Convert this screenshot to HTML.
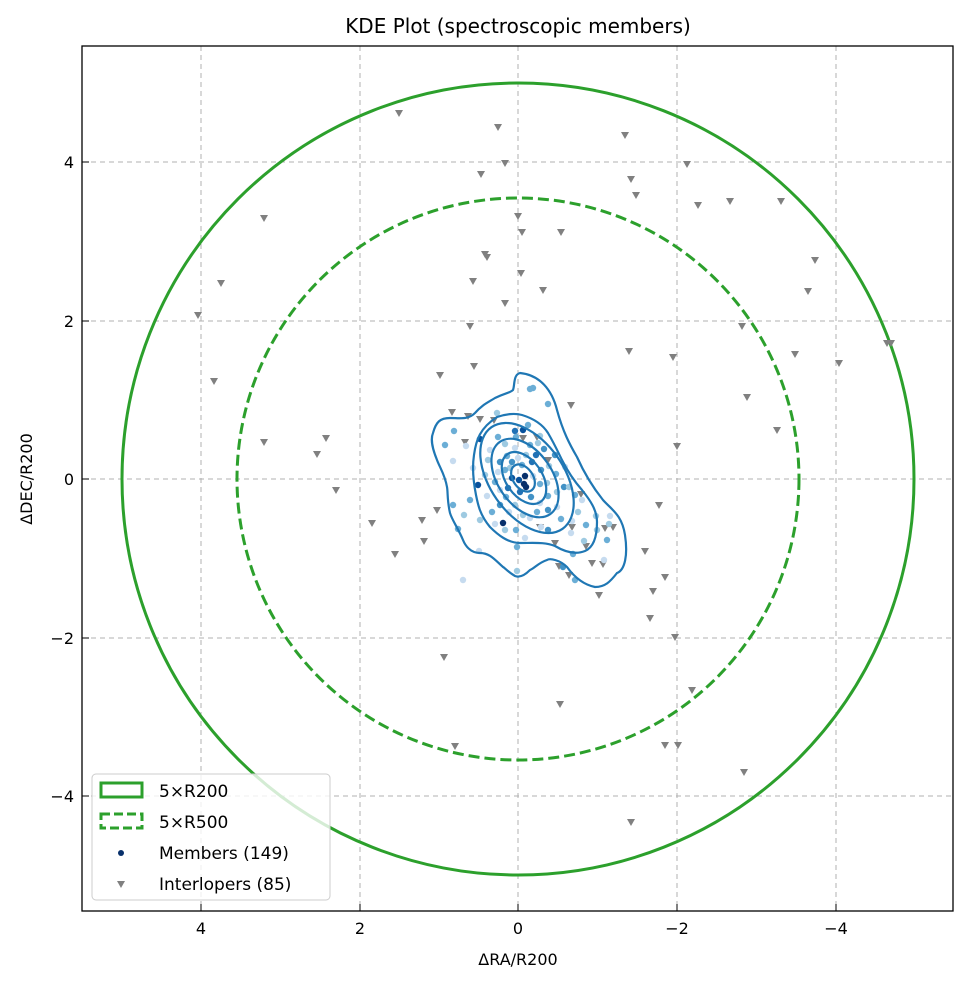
<!DOCTYPE html>
<html><head><meta charset="utf-8"><style>
body{margin:0;background:#fff}
text{font-family:"DejaVu Sans","Liberation Sans",sans-serif;fill:#000}
</style></head><body>
<svg width="969" height="984" xmlns="http://www.w3.org/2000/svg" xmlns:xlink="http://www.w3.org/1999/xlink">
<defs>
<path id="t" d="M-4,-3 L4,-3 L0,4 Z" fill="#808080"/>
<circle id="a" r="3.2" fill="#c6dbef"/>
<circle id="b" r="3.2" fill="#9ecae1"/>
<circle id="c" r="3.2" fill="#6baed6"/>
<circle id="d" r="3.2" fill="#4292c6"/>
<circle id="e" r="3.2" fill="#2171b5"/>
<circle id="f" r="3.2" fill="#08519c"/>
<circle id="g" r="3.2" fill="#08306b"/>
</defs>
<rect width="969" height="984" fill="#fff"/>
<text x="518" y="33" font-size="20" text-anchor="middle">KDE Plot (spectroscopic members)</text>
<g stroke="#b0b0b0" stroke-dasharray="5,4" stroke-width="1">
<line x1="201" y1="46" x2="201" y2="911"/><line x1="360" y1="46" x2="360" y2="911"/><line x1="518" y1="46" x2="518" y2="911"/><line x1="677" y1="46" x2="677" y2="911"/><line x1="836" y1="46" x2="836" y2="911"/>
<line x1="82" y1="162" x2="953" y2="162"/><line x1="82" y1="321" x2="953" y2="321"/><line x1="82" y1="479" x2="953" y2="479"/><line x1="82" y1="638" x2="953" y2="638"/><line x1="82" y1="796" x2="953" y2="796"/>
</g>
<circle cx="518" cy="479" r="396" fill="none" stroke="#2ca02c" stroke-width="3"/>
<circle cx="518" cy="479" r="281" fill="none" stroke="#2ca02c" stroke-width="3" stroke-dasharray="11,5"/>
<g>
<use xlink:href="#t" x="399" y="113"/><use xlink:href="#t" x="498" y="127"/><use xlink:href="#t" x="625" y="135"/><use xlink:href="#t" x="505" y="163"/><use xlink:href="#t" x="687" y="164"/><use xlink:href="#t" x="481" y="174"/><use xlink:href="#t" x="631" y="179"/><use xlink:href="#t" x="636" y="195"/><use xlink:href="#t" x="698" y="205"/><use xlink:href="#t" x="730" y="201"/><use xlink:href="#t" x="781" y="201"/><use xlink:href="#t" x="264" y="218"/><use xlink:href="#t" x="518" y="216"/><use xlink:href="#t" x="522" y="232"/><use xlink:href="#t" x="561" y="232"/><use xlink:href="#t" x="221" y="283"/><use xlink:href="#t" x="485" y="254"/><use xlink:href="#t" x="487" y="257"/><use xlink:href="#t" x="521" y="273"/><use xlink:href="#t" x="473" y="281"/><use xlink:href="#t" x="543" y="290"/><use xlink:href="#t" x="815" y="260"/><use xlink:href="#t" x="808" y="291"/><use xlink:href="#t" x="198" y="315"/><use xlink:href="#t" x="470" y="326"/><use xlink:href="#t" x="505" y="303"/><use xlink:href="#t" x="742" y="326"/><use xlink:href="#t" x="629" y="351"/><use xlink:href="#t" x="673" y="357"/><use xlink:href="#t" x="795" y="354"/><use xlink:href="#t" x="887" y="343"/><use xlink:href="#t" x="891" y="343"/><use xlink:href="#t" x="440" y="375"/><use xlink:href="#t" x="474" y="366"/><use xlink:href="#t" x="214" y="381"/><use xlink:href="#t" x="839" y="363"/><use xlink:href="#t" x="747" y="397"/><use xlink:href="#t" x="264" y="442"/><use xlink:href="#t" x="326" y="438"/><use xlink:href="#t" x="777" y="430"/><use xlink:href="#t" x="677" y="446"/><use xlink:href="#t" x="317" y="454"/><use xlink:href="#t" x="336" y="490"/><use xlink:href="#t" x="372" y="523"/><use xlink:href="#t" x="422" y="520"/><use xlink:href="#t" x="437" y="510"/><use xlink:href="#t" x="659" y="505"/><use xlink:href="#t" x="395" y="554"/><use xlink:href="#t" x="424" y="541"/><use xlink:href="#t" x="645" y="551"/><use xlink:href="#t" x="665" y="577"/><use xlink:href="#t" x="559" y="566"/><use xlink:href="#t" x="569" y="575"/><use xlink:href="#t" x="653" y="591"/><use xlink:href="#t" x="650" y="618"/><use xlink:href="#t" x="599" y="595"/><use xlink:href="#t" x="675" y="637"/><use xlink:href="#t" x="444" y="657"/><use xlink:href="#t" x="692" y="690"/><use xlink:href="#t" x="560" y="704"/><use xlink:href="#t" x="455" y="746"/><use xlink:href="#t" x="665" y="745"/><use xlink:href="#t" x="678" y="745"/><use xlink:href="#t" x="744" y="772"/><use xlink:href="#t" x="631" y="822"/><use xlink:href="#t" x="452" y="412"/><use xlink:href="#t" x="465" y="442"/><use xlink:href="#t" x="480" y="419"/><use xlink:href="#t" x="494" y="420"/><use xlink:href="#t" x="537" y="437"/><use xlink:href="#t" x="592" y="563"/><use xlink:href="#t" x="603" y="564"/><use xlink:href="#t" x="540" y="527"/><use xlink:href="#t" x="555" y="543"/><use xlink:href="#t" x="572" y="527"/><use xlink:href="#t" x="586" y="546"/><use xlink:href="#t" x="605" y="528"/><use xlink:href="#t" x="613" y="527"/><use xlink:href="#t" x="581" y="494"/><use xlink:href="#t" x="468" y="416"/><use xlink:href="#t" x="571" y="405"/><use xlink:href="#t" x="523" y="438"/><use xlink:href="#t" x="548" y="460"/>
</g>
<g>
<use xlink:href="#c" x="530" y="389"/><use xlink:href="#c" x="533" y="388"/><use xlink:href="#c" x="548" y="404"/><use xlink:href="#b" x="497" y="413"/><use xlink:href="#c" x="454" y="431"/><use xlink:href="#c" x="445" y="445"/><use xlink:href="#a" x="466" y="446"/><use xlink:href="#f" x="480" y="439"/><use xlink:href="#a" x="453" y="461"/><use xlink:href="#a" x="473" y="468"/><use xlink:href="#f" x="478" y="485"/><use xlink:href="#c" x="453" y="505"/><use xlink:href="#b" x="464" y="515"/><use xlink:href="#c" x="458" y="529"/><use xlink:href="#a" x="479" y="551"/><use xlink:href="#g" x="503" y="523"/><use xlink:href="#c" x="517" y="547"/><use xlink:href="#b" x="517" y="571"/><use xlink:href="#a" x="463" y="580"/><use xlink:href="#c" x="573" y="554"/><use xlink:href="#d" x="563" y="567"/><use xlink:href="#b" x="596" y="516"/><use xlink:href="#b" x="609" y="524"/><use xlink:href="#a" x="610" y="516"/><use xlink:href="#c" x="607" y="540"/><use xlink:href="#b" x="584" y="541"/><use xlink:href="#a" x="572" y="521"/><use xlink:href="#a" x="571" y="533"/><use xlink:href="#c" x="561" y="519"/><use xlink:href="#e" x="515" y="431"/><use xlink:href="#f" x="523" y="430"/><use xlink:href="#c" x="516" y="437"/><use xlink:href="#b" x="505" y="444"/><use xlink:href="#a" x="515" y="448"/><use xlink:href="#c" x="530" y="445"/><use xlink:href="#b" x="538" y="443"/><use xlink:href="#d" x="544" y="449"/><use xlink:href="#c" x="507" y="456"/><use xlink:href="#d" x="500" y="462"/><use xlink:href="#a" x="498" y="472"/><use xlink:href="#b" x="510" y="468"/><use xlink:href="#c" x="522" y="465"/><use xlink:href="#e" x="532" y="462"/><use xlink:href="#d" x="541" y="470"/><use xlink:href="#b" x="549" y="466"/><use xlink:href="#c" x="556" y="474"/><use xlink:href="#a" x="565" y="467"/><use xlink:href="#d" x="564" y="487"/><use xlink:href="#b" x="557" y="492"/><use xlink:href="#c" x="548" y="496"/><use xlink:href="#a" x="540" y="503"/><use xlink:href="#d" x="531" y="497"/><use xlink:href="#e" x="520" y="492"/><use xlink:href="#g" x="524" y="484"/><use xlink:href="#g" x="526" y="487"/><use xlink:href="#f" x="519" y="480"/><use xlink:href="#g" x="525" y="476"/><use xlink:href="#f" x="512" y="478"/><use xlink:href="#e" x="508" y="488"/><use xlink:href="#a" x="500" y="490"/><use xlink:href="#c" x="506" y="497"/><use xlink:href="#b" x="515" y="505"/><use xlink:href="#d" x="500" y="505"/><use xlink:href="#a" x="509" y="512"/><use xlink:href="#c" x="492" y="512"/><use xlink:href="#a" x="487" y="496"/><use xlink:href="#b" x="485" y="475"/><use xlink:href="#c" x="495" y="482"/><use xlink:href="#a" x="530" y="518"/><use xlink:href="#b" x="523" y="515"/><use xlink:href="#c" x="537" y="512"/><use xlink:href="#d" x="548" y="510"/><use xlink:href="#a" x="557" y="507"/><use xlink:href="#b" x="547" y="483"/><use xlink:href="#a" x="533" y="476"/><use xlink:href="#c" x="540" y="484"/><use xlink:href="#e" x="536" y="455"/><use xlink:href="#b" x="526" y="455"/><use xlink:href="#a" x="518" y="458"/><use xlink:href="#c" x="505" y="470"/><use xlink:href="#d" x="512" y="462"/><use xlink:href="#b" x="569" y="487"/><use xlink:href="#c" x="575" y="495"/><use xlink:href="#a" x="582" y="500"/><use xlink:href="#b" x="578" y="512"/><use xlink:href="#a" x="495" y="524"/><use xlink:href="#b" x="505" y="530"/><use xlink:href="#c" x="516" y="530"/><use xlink:href="#a" x="525" y="538"/><use xlink:href="#d" x="555" y="455"/><use xlink:href="#c" x="498" y="437"/><use xlink:href="#a" x="490" y="450"/><use xlink:href="#b" x="488" y="460"/><use xlink:href="#c" x="470" y="500"/><use xlink:href="#b" x="480" y="520"/><use xlink:href="#a" x="604" y="560"/><use xlink:href="#c" x="575" y="580"/><use xlink:href="#b" x="597" y="530"/><use xlink:href="#c" x="586" y="525"/><use xlink:href="#a" x="541" y="527"/><use xlink:href="#d" x="548" y="530"/><use xlink:href="#b" x="540" y="436"/><use xlink:href="#c" x="528" y="425"/>
</g>
<g fill="none" stroke="#1f77b4" stroke-width="2.2">
<path d="M520,373 C540,375 552,390 557,410 C563,432 570,445 577,457 C585,475 595,490 603,500 C612,510 622,515 625,535 C628,555 625,570 617,573 C610,582 605,587 595,587 C585,585 575,578 567,567 C560,560 550,558 547,560 C538,563 535,568 530,570 C525,575 520,578 515,576 C508,572 505,568 503,567 C495,560 490,553 480,553 C470,553 465,545 463,540 C458,528 452,520 450,513 C447,500 448,492 447,487 C445,475 440,468 437,460 C433,450 430,440 433,433 C436,422 440,418 450,418 C460,418 468,420 475,413 C482,405 487,403 495,398 C505,393 510,393 513,390 C515,385 513,375 520,373 Z"/>
<path d="M497,417 C505,414 515,413 522,415 C535,419 543,425 548,433 C555,445 558,452 562,460 C568,472 575,482 582,490 C590,500 597,510 597,522 C597,540 592,548 585,551 C575,555 565,552 555,546 C545,542 535,543 520,543 C508,543 498,535 490,527 C480,515 478,505 476,495 C473,480 472,468 474,455 C476,440 480,428 497,417 Z"/>
<ellipse cx="527" cy="478" rx="62" ry="37" transform="rotate(55 527 478)"/>
<ellipse cx="525" cy="478" rx="44" ry="27" transform="rotate(55 525 478)"/>
<ellipse cx="524" cy="478" rx="29" ry="18" transform="rotate(55 524 478)"/>
<ellipse cx="523" cy="478" rx="15" ry="10" transform="rotate(55 523 478)"/>
</g>
<rect x="82" y="46" width="871" height="865" fill="none" stroke="#000" stroke-width="1.3"/>
<g stroke="#000" stroke-width="1">
<line x1="201" y1="911" x2="201" y2="904"/><line x1="360" y1="911" x2="360" y2="904"/><line x1="518" y1="911" x2="518" y2="904"/><line x1="677" y1="911" x2="677" y2="904"/><line x1="836" y1="911" x2="836" y2="904"/>
<line x1="82" y1="162" x2="89" y2="162"/><line x1="82" y1="321" x2="89" y2="321"/><line x1="82" y1="479" x2="89" y2="479"/><line x1="82" y1="638" x2="89" y2="638"/><line x1="82" y1="796" x2="89" y2="796"/>
</g>
<g font-size="16" text-anchor="middle">
<text x="201" y="934">4</text><text x="360" y="934">2</text><text x="518" y="934">0</text><text x="677" y="934">−2</text><text x="836" y="934">−4</text>
<text x="518" y="965">ΔRA/R200</text>
</g>
<g font-size="16" text-anchor="end">
<text x="74" y="168">4</text><text x="74" y="327">2</text><text x="74" y="485">0</text><text x="74" y="644">−2</text><text x="74" y="802">−4</text>
</g>
<text x="32" y="479" font-size="16" text-anchor="middle" transform="rotate(-90 32 479)">ΔDEC/R200</text>
<rect x="92" y="774" width="238" height="126" rx="4" fill="#fff" fill-opacity="0.8" stroke="#ccc"/>
<rect x="101" y="783" width="41" height="14" fill="none" stroke="#2ca02c" stroke-width="3"/>
<rect x="101" y="814" width="41" height="14" fill="none" stroke="#2ca02c" stroke-width="3" stroke-dasharray="9,4"/>
<circle cx="121" cy="853" r="3" fill="#08306b"/>
<path d="M117,881 L125,881 L121,888 Z" fill="#808080"/>
<g font-size="17"><text x="159" y="797">5×R200</text><text x="159" y="828">5×R500</text><text x="159" y="859">Members (149)</text><text x="159" y="890">Interlopers (85)</text></g>
</svg>
</body></html>
